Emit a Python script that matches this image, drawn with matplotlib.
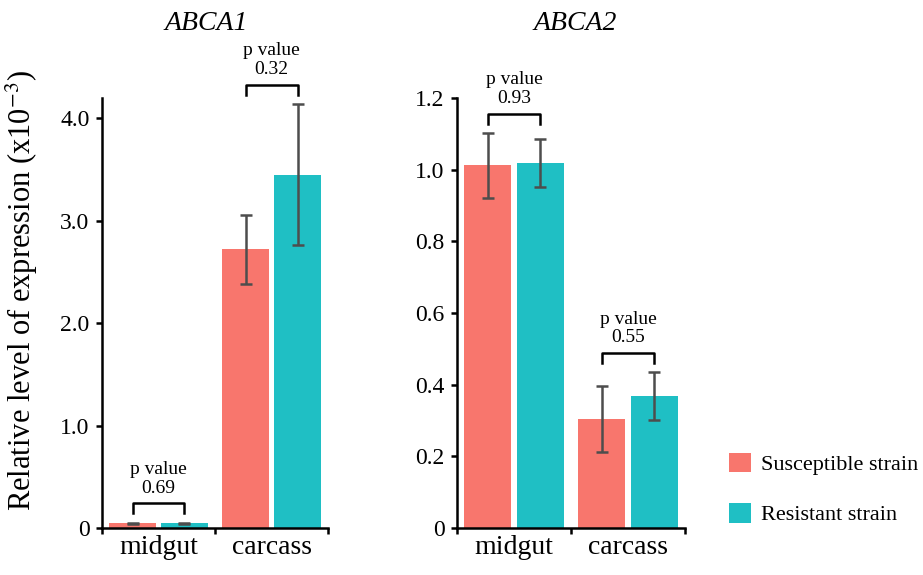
import matplotlib
matplotlib.use("Agg")
import matplotlib.pyplot as plt
from matplotlib.patches import Patch
import numpy as np

plt.rcParams['font.family'] = ['Liberation Serif', 'DejaVu Serif']
plt.rcParams['mathtext.fontset'] = 'stix'

# data
tissues = ["midgut", "carcass"]
strains = ["Susceptible strain", "Resistant strain"]
colors = ["#F8766D", "#1FBFC4"]

genes = ["ABCA1", "ABCA2"]
# mean expression, [susceptible, resistant] per tissue
abca1_mean = [[0.045, 2.72], [0.045, 3.45]]
abca1_err = [[0.006, 0.34], [0.006, 0.69]]
abca2_mean = [[1.012, 0.304], [1.018, 0.368]]
abca2_err = [[0.090, 0.091], [0.067, 0.067]]
p_values = [["0.69", "0.32"], ["0.93", "0.55"]]

ylims = [4.2, 1.2]
yticks = [[0, 1.0, 2.0, 3.0, 4.0], [0, 0.2, 0.4, 0.6, 0.8, 1.0, 1.2]]

fig = plt.figure(figsize=(9.23, 5.75), dpi=100)
ax1 = fig.add_axes([0.1105, 0.0817, 0.2449, 0.748])
ax2 = fig.add_axes([0.4951, 0.0817, 0.2470, 0.748])

offsets = [-0.23, 0.23]
width = 0.41
x = np.arange(len(tissues)) + 0.5

for ax, gene, means, errs, pv, ymax, ticks in zip(
        [ax1, ax2], genes, [abca1_mean, abca2_mean], [abca1_err, abca2_err],
        p_values, ylims, yticks):
    for s in range(len(strains)):
        ax.bar(x + offsets[s], means[s], width, color=colors[s], zorder=2)
        ax.errorbar(x + offsets[s], means[s], yerr=errs[s], fmt='none',
                    ecolor='#4D4D4D', elinewidth=1.8, capsize=4, capthick=1.8,
                    zorder=3)

    # significance brackets
    for i in range(len(tissues)):
        top = max(means[0][i] + errs[0][i], means[1][i] + errs[1][i])
        yb = top + 0.045 * ymax
        leg = 0.023 * ymax
        x1 = x[i] + offsets[0]
        x2 = x[i] + offsets[1]
        ax.plot([x1, x1, x2, x2], [yb - leg, yb, yb, yb - leg],
                color='black', lw=1.8, clip_on=False, zorder=4)
        ax.annotate("p value\n" + pv[i], xy=(x[i], yb), xytext=(0, 5),
                    textcoords='offset points', ha='center', va='bottom',
                    fontsize=14, linespacing=1.1, annotation_clip=False)

    ax.set_ylim(0, ymax)
    ax.set_xlim(0, len(tissues))
    ax.set_yticks(ticks)
    ax.set_yticklabels(["0" if t == 0 else f"{t:.1f}" for t in ticks])
    ax.set_xticks([0, 1, 2])
    ax.set_xticklabels([])
    ax.set_xticks(x, minor=True)
    ax.set_xticklabels(tissues, minor=True, fontsize=20)
    ax.tick_params(axis='x', which='minor', length=0, pad=5)
    ax.tick_params(axis='both', which='major', length=4, width=1.8,
                   labelsize=17, direction='out', color='black')
    ax.tick_params(axis='y', pad=5)
    for side in ['top', 'right']:
        ax.spines[side].set_visible(False)
    for side in ['left', 'bottom']:
        ax.spines[side].set_linewidth(1.8)

# gene titles
fig.text(206 / 923, 1 - 23 / 575, genes[0], ha='center',
         va='center', fontsize=20, style='italic')
fig.text(575 / 923, 1 - 23 / 575, genes[1], ha='center',
         va='center', fontsize=20, style='italic')

ax1.set_ylabel("Relative level of expression (x10$^{-3}$)", fontsize=22)
ax1.yaxis.set_label_coords(-0.275, 0.553)

handles = [Patch(facecolor=c) for c in colors]
fig.legend(handles, strains, loc='center left',
           bbox_to_anchor=(720 / 923, 1 - 489 / 575), frameon=False,
           fontsize=16, handlelength=1.0, handleheight=1.0,
           handletextpad=0.45, labelspacing=1.25, borderaxespad=0)

fig.savefig("out.png", dpi=100)
